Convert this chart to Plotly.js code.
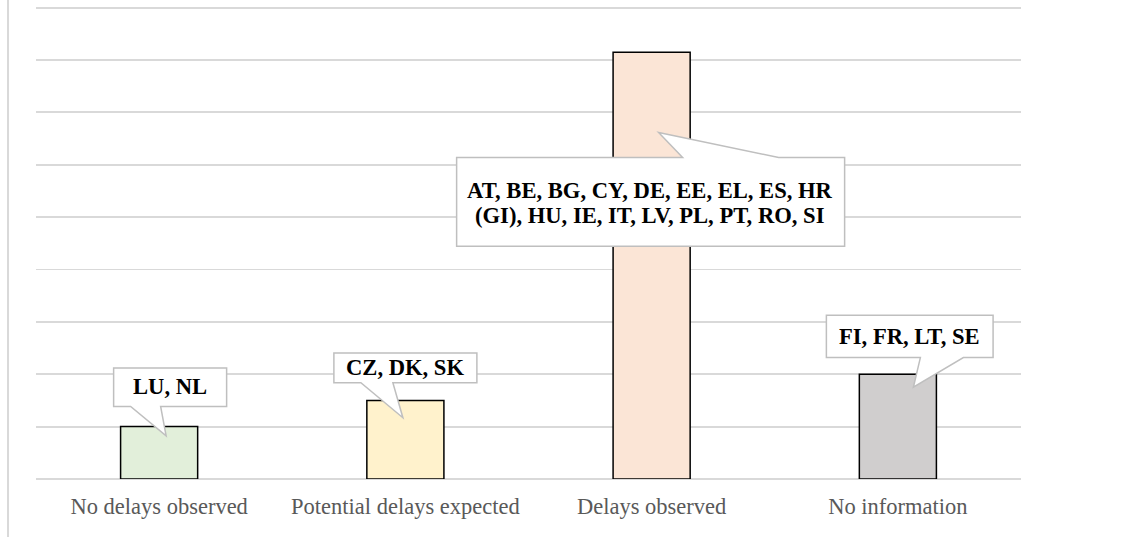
<!DOCTYPE html>
<html>
<head>
<meta charset="utf-8">
<script src="https://cdn.plot.ly/plotly-3.0.1.min.js"></script>
<style>html,body{margin:0;padding:0;background:#fff;}#chart{width:1140px;height:537px;}</style>
</head>
<body>
<div id="chart"></div>
<script>
// ---- data ----
const categories = ['No delays observed', 'Potential delays expected', 'Delays observed', 'No information'];
const values = [2, 3, 16.3, 4];
const countryLabels = [
  'LU, NL',
  'CZ, DK, SK',
  'AT, BE, BG, CY, DE, EE, EL, ES, HR<br>(GI), HU, IE, IT, LV, PL, PT, RO, SI',
  'FI, FR, LT, SE'
];
const yTickVals = [0, 2, 4, 6, 8, 10, 12, 14, 16, 18];

// ---- styles ----
const barColors = ['#e2efda', '#fff2cc', '#fbe5d6', '#d0cece'];
// callout geometry in pixels relative to bar top (up positive)
const callouts = [
  {box: [-45.5, 67.5, 58.7, 20.2], tail: [-28.5, 1.5, 7, -9.3], side: 'bottom', text: [11, 39.7]},
  {box: [-71.5, 71.5, 47.4, 17.7], tail: [-44.5, -12.5, -2.5, -17.3], side: 'bottom', text: [0, 32.7]},
  {box: [-195, 193, -105.3, -194], tail: [31, 127, 7, -80.3], side: 'top', text: [-1.5, -138.3]},
  {box: [-71.5, 95.2, 59, 16.7], tail: [22.5, 65.5, 15.5, -13], side: 'bottom', text: [11.8, 38]}
];
const lineStep = 25.5; // px between label lines

function calloutPath(c) {
  const [bx0, bx1, bt, bb] = c.box;
  const [tx0, tx1, px, py] = c.tail;
  const p = (x, y) => x + ',' + y;
  let pts;
  if (c.side === 'bottom') {
    pts = [p(bx0, bt), p(bx1, bt), p(bx1, bb), p(tx1, bb), p(px, py), p(tx0, bb), p(bx0, bb)];
  } else {
    pts = [p(bx0, bt), p(tx0, bt), p(px, py), p(tx1, bt), p(bx1, bt), p(bx1, bb), p(bx0, bb)];
  }
  return 'M' + pts.join('L') + 'Z';
}

const shapes = callouts.map((c, i) => ({
  type: 'path', xref: 'x', yref: 'y',
  xsizemode: 'pixel', ysizemode: 'pixel',
  xanchor: i, yanchor: values[i],
  path: calloutPath(c),
  fillcolor: '#ffffff', line: {color: '#bfbfbf', width: 1.5}, layer: 'above'
}));
// left border line
shapes.push({type: 'line', xref: 'paper', yref: 'paper', x0: -0.0284, x1: -0.0284, y0: -0.13, y1: 1.02,
  line: {color: '#d9d9d9', width: 2}, layer: 'below'});

const annotations = [];
callouts.forEach((c, i) => {
  countryLabels[i].split('<br>').forEach((line, k) => {
    annotations.push({
      x: i, y: values[i], xref: 'x', yref: 'y', showarrow: false,
      text: '<b>' + line + '</b>',
      xshift: c.text[0], yshift: c.text[1] - k * lineStep,
      xanchor: 'center', yanchor: 'middle', align: 'center',
      font: {family: 'Liberation Serif, Times New Roman, serif', size: 22.6, color: '#000000'}
    });
  });
});

const trace = {
  type: 'bar', x: categories, y: values,
  marker: {color: barColors, line: {color: '#000000', width: 1.5}},
  hoverinfo: 'none'
};

const layout = {
  width: 1140, height: 537,
  margin: {l: 36, r: 119, t: 5.4, b: 58},
  paper_bgcolor: '#ffffff', plot_bgcolor: '#ffffff',
  showlegend: false,
  bargap: 0.687,
  xaxis: {
    type: 'category', showgrid: false, zeroline: false, showline: false, ticks: '',
    ticklabelstandoff: 11,
    tickfont: {family: 'Liberation Serif, Times New Roman, serif', size: 22.5, color: '#595959'}
  },
  yaxis: {
    range: [0, 18.1], tickvals: yTickVals, showticklabels: false, ticks: '',
    showgrid: true, gridcolor: '#d9d9d9', gridwidth: 1.8,
    zeroline: true, zerolinecolor: '#d9d9d9', zerolinewidth: 1.8, showline: false
  },
  shapes: shapes,
  annotations: annotations
};

Plotly.newPlot('chart', [trace], layout, {displayModeBar: false, staticPlot: true});
</script>
</body>
</html>
